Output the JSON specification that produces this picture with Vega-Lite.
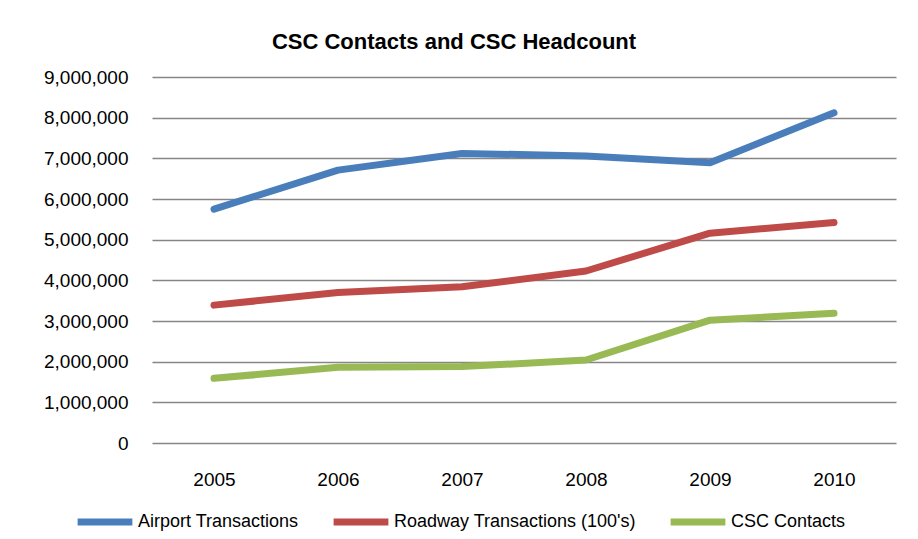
{
  "$schema": "https://vega.github.io/schema/vega-lite/v6.json",
  "autosize": {"type": "none"},
  "width": 744,
  "height": 366,
  "padding": {"left": 152, "top": 77, "right": 22, "bottom": 96},
  "background": "white",
  "title": {
    "text": "CSC Contacts and CSC Headcount",
    "fontSize": 22,
    "fontWeight": "bold",
    "font": "Liberation Sans",
    "color": "#000000",
    "anchor": "middle",
    "dx": -70,
    "offset": 14
  },
  "data": {
    "values": [
      {"year": "2005", "series": "Airport Transactions", "value": 5750000},
      {"year": "2006", "series": "Airport Transactions", "value": 6710000},
      {"year": "2007", "series": "Airport Transactions", "value": 7120000},
      {"year": "2008", "series": "Airport Transactions", "value": 7060000},
      {"year": "2009", "series": "Airport Transactions", "value": 6890000},
      {"year": "2010", "series": "Airport Transactions", "value": 8120000},
      {"year": "2005", "series": "Roadway Transactions (100's)", "value": 3390000},
      {"year": "2006", "series": "Roadway Transactions (100's)", "value": 3700000},
      {"year": "2007", "series": "Roadway Transactions (100's)", "value": 3840000},
      {"year": "2008", "series": "Roadway Transactions (100's)", "value": 4230000},
      {"year": "2009", "series": "Roadway Transactions (100's)", "value": 5160000},
      {"year": "2010", "series": "Roadway Transactions (100's)", "value": 5420000},
      {"year": "2005", "series": "CSC Contacts", "value": 1590000},
      {"year": "2006", "series": "CSC Contacts", "value": 1860000},
      {"year": "2007", "series": "CSC Contacts", "value": 1880000},
      {"year": "2008", "series": "CSC Contacts", "value": 2040000},
      {"year": "2009", "series": "CSC Contacts", "value": 3020000},
      {"year": "2010", "series": "CSC Contacts", "value": 3190000}
    ]
  },
  "mark": {"type": "line", "strokeWidth": 7, "strokeCap": "round", "strokeJoin": "round"},
  "encoding": {
    "x": {
      "field": "year",
      "type": "ordinal",
      "scale": {"type": "point", "padding": 0.5},
      "axis": {
        "title": null,
        "labelAngle": 0,
        "ticks": false,
        "domain": false,
        "grid": false,
        "labelPadding": 27,
        "labelFontSize": 19,
        "labelFont": "Liberation Sans",
        "labelColor": "#000000"
      }
    },
    "y": {
      "field": "value",
      "type": "quantitative",
      "scale": {"domain": [0, 9000000], "nice": false},
      "axis": {
        "title": null,
        "values": [0, 1000000, 2000000, 3000000, 4000000, 5000000, 6000000, 7000000, 8000000, 9000000],
        "labelExpr": "format(datum.value, ',d')",
        "ticks": false,
        "domain": false,
        "grid": true,
        "gridColor": "#868686",
        "gridWidth": 1.5,
        "gridOpacity": 1,
        "labelPadding": 24,
        "labelFontSize": 19,
        "labelFont": "Liberation Sans",
        "labelColor": "#000000"
      }
    },
    "color": {
      "field": "series",
      "type": "nominal",
      "sort": ["Airport Transactions", "Roadway Transactions (100's)", "CSC Contacts"],
      "scale": {
        "domain": ["Airport Transactions", "Roadway Transactions (100's)", "CSC Contacts"],
        "range": ["#4A7EBB", "#BE4B48", "#98B954"]
      },
      "legend": {
        "title": null,
        "orient": "none",
        "direction": "horizontal",
        "legendX": -78,
        "legendY": 414,
        "symbolType": "stroke",
        "symbolSize": 3000,
        "symbolStrokeWidth": 7,
        "labelFontSize": 18,
        "labelFont": "Liberation Sans",
        "labelColor": "#000000",
        "labelOffset": 2,
        "columnPadding": 20,
        "labelLimit": 400
      }
    }
  },
  "config": {
    "view": {"stroke": null}
  }
}
